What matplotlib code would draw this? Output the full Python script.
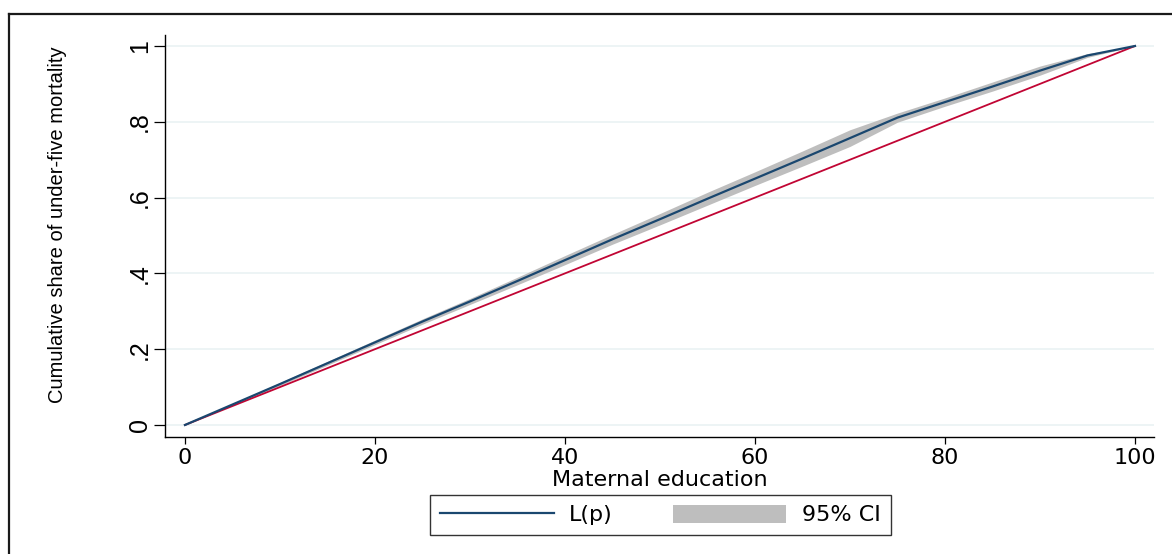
import matplotlib
matplotlib.use("Agg")
import matplotlib.pyplot as plt
from matplotlib.lines import Line2D
from matplotlib.patches import Patch

# Concentration curve of under-five mortality by maternal education
pct = [0, 5, 10, 15, 20, 25, 30, 35, 40, 45, 50, 55, 60, 65, 70, 75, 80, 85, 90, 95, 100]
lp = [0.0, 0.054, 0.108, 0.163, 0.218, 0.273, 0.326, 0.380, 0.435, 0.490, 0.543,
      0.597, 0.650, 0.703, 0.757, 0.811, 0.852, 0.893, 0.935, 0.975, 1.0]
ci_low = [0.0, 0.052, 0.104, 0.158, 0.212, 0.266, 0.318, 0.370, 0.423, 0.477, 0.528,
          0.580, 0.632, 0.683, 0.735, 0.799, 0.841, 0.881, 0.923, 0.970, 1.0]
ci_high = [0.0, 0.056, 0.112, 0.168, 0.224, 0.280, 0.334, 0.390, 0.447, 0.503, 0.558,
           0.614, 0.668, 0.723, 0.779, 0.823, 0.863, 0.905, 0.947, 0.980, 1.0]
equality = [0, 100]
equality_y = [0, 1]
xticks = [0, 20, 40, 60, 80, 100]
yticks = [0, 0.2, 0.4, 0.6, 0.8, 1.0]
ytick_labels = ["0", ".2", ".4", ".6", ".8", "1"]

W, H = 1172, 554
fig = plt.figure(figsize=(W / 100, H / 100), dpi=100)
fig.patch.set_facecolor("white")

# outer graph frame
fig.add_artist(Line2D([9 / W, 9 / W], [0, 1 - 14 / H], transform=fig.transFigure,
                      color="#1a1a1a", lw=1.6))
fig.add_artist(Line2D([9 / W, 1], [1 - 14 / H, 1 - 14 / H], transform=fig.transFigure,
                      color="#1a1a1a", lw=1.6))

left, right, top, bottom = 165, 1154, 35, 437
ax = fig.add_axes([left / W, 1 - bottom / H, (right - left) / W, (bottom - top) / H])

navy = "#1a476f"
cranberry = "#c10534"
band = "#bebebe"

ax.fill_between(pct, ci_low, ci_high, color=band, lw=0, zorder=2)
ax.plot(pct, lp, color=navy, lw=1.6, zorder=4)
ax.plot(equality, equality_y, color=cranberry, lw=1.3, zorder=3)

ax.set_xlim(-2.1, 102.0)
ax.set_ylim(-0.0317, 1.029)

for s in ["top", "right"]:
    ax.spines[s].set_visible(False)
for s in ["left", "bottom"]:
    ax.spines[s].set_color("black")
    ax.spines[s].set_linewidth(1.0)

ax.set_yticks(yticks)
ax.set_yticklabels(ytick_labels, rotation=90, va="center", ha="center",
                   family="Liberation Sans", fontsize=18)
ax.set_xticks(xticks)
ax.set_xticklabels([str(v) for v in xticks], family="DejaVu Sans", fontsize=16)
ax.tick_params(axis="y", length=8, width=0.9, pad=10, color="black")
ax.tick_params(axis="x", length=5, width=0.9, pad=3, color="black")

ax.grid(axis="y", color="#eaf2f3", lw=1.2, zorder=0)
ax.set_axisbelow(True)

ax.set_xlabel("Maternal education", family="DejaVu Sans", fontsize=16, labelpad=1)

fig.text(58 / W, 1 - 225 / H, "Cumulative share of under-five mortality", rotation=90,
         ha="center", va="center", fontsize=14.5, family="Liberation Sans")

handles = [Line2D([], [], color=navy, lw=1.6),
           Patch(facecolor=band, edgecolor="none")]
leg = fig.legend(handles, ["L(p)", "95% CI"], ncol=2, loc="center",
                 bbox_to_anchor=(660.5 / W, 1 - 515 / H), frameon=True, fancybox=False,
                 edgecolor="black", handlelength=5.1, handleheight=0.9,
                 handletextpad=0.7, columnspacing=2.7, borderpad=0.45,
                 prop={"family": "DejaVu Sans", "size": 16})
leg.get_frame().set_linewidth(1.0)

fig.savefig("out.png", dpi=100, facecolor="white")
